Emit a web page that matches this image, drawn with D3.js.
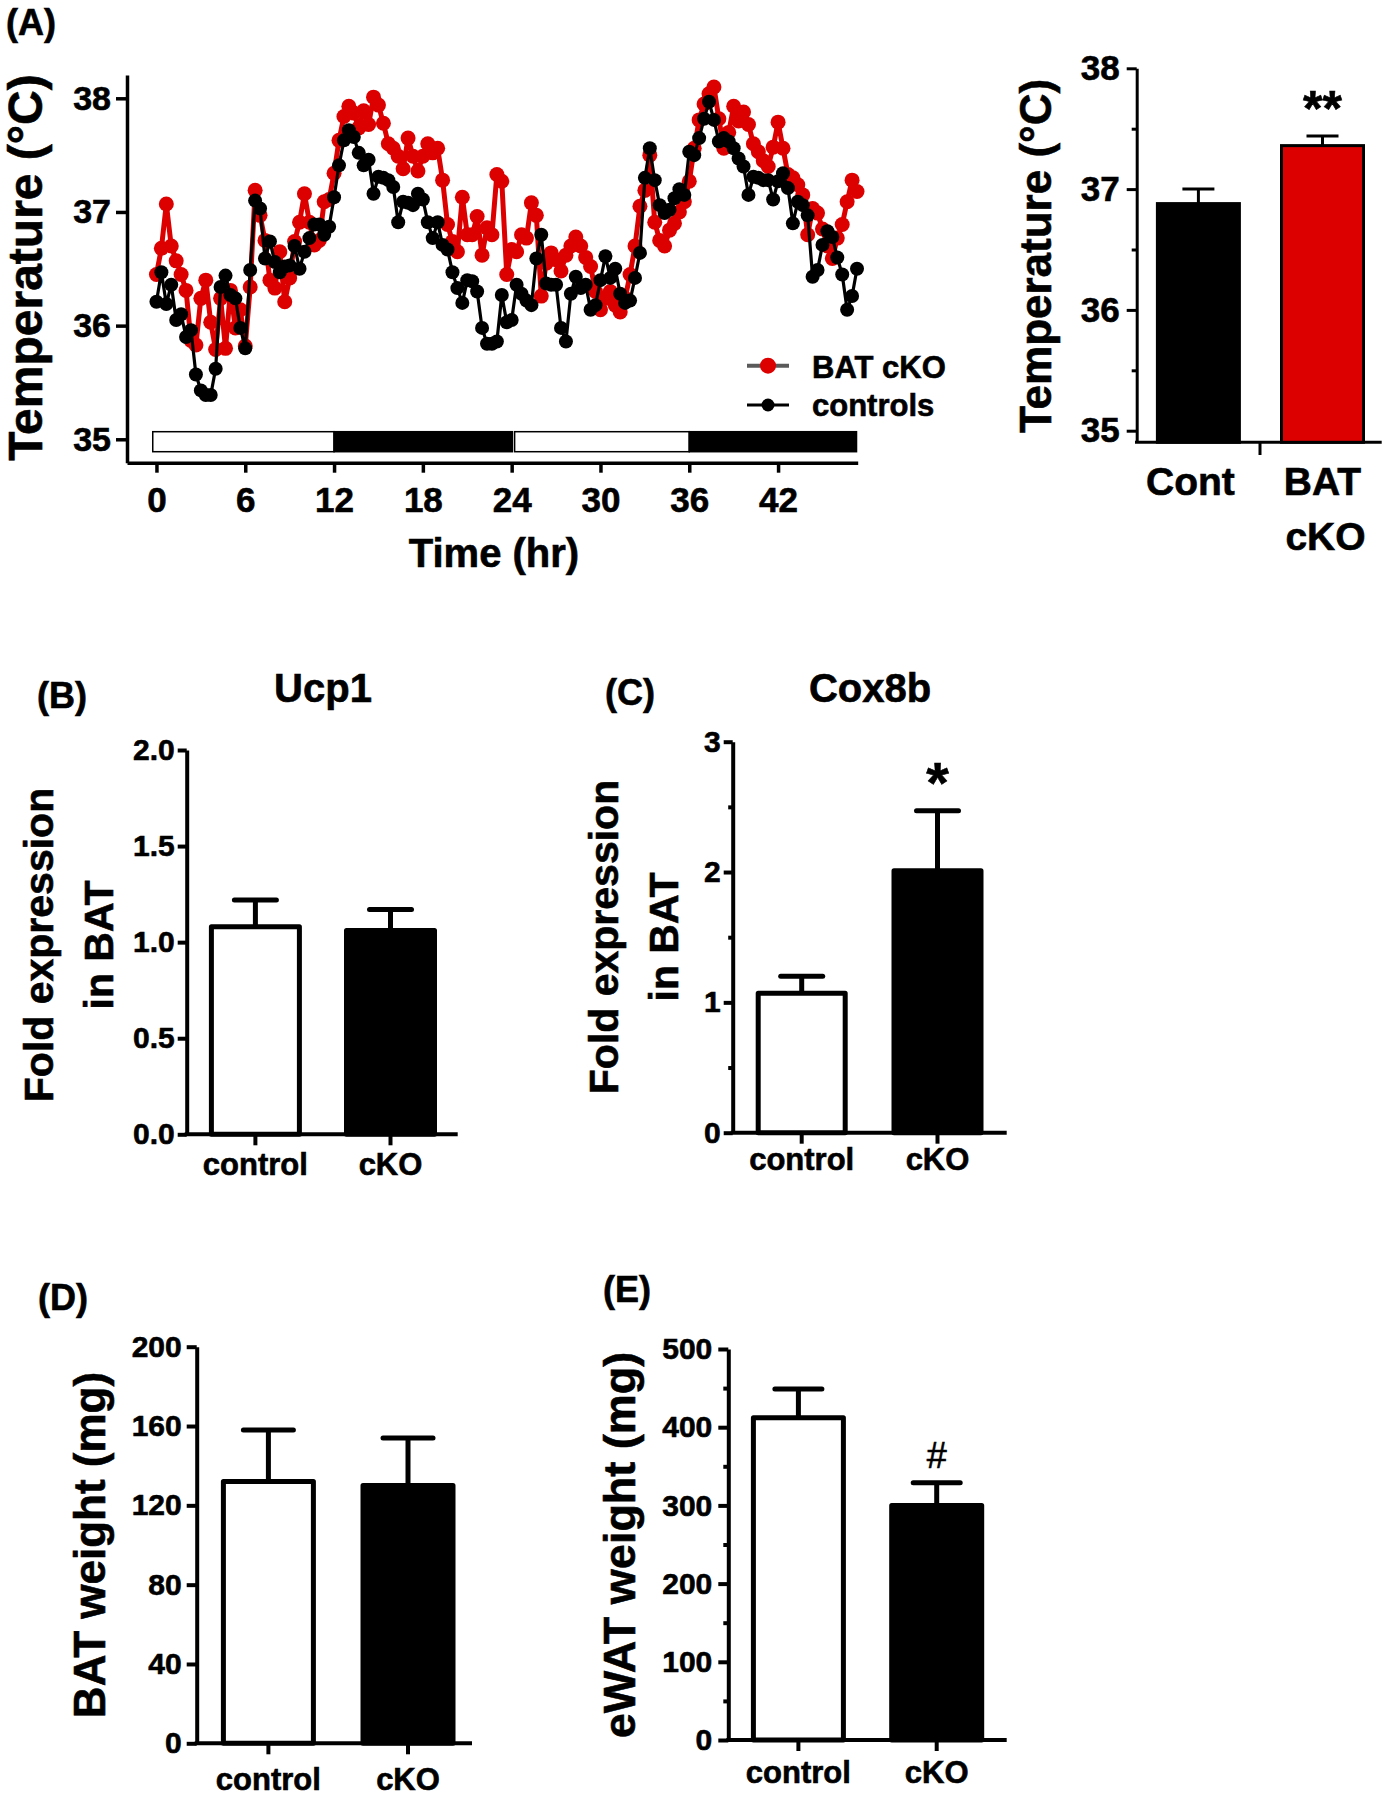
<!DOCTYPE html>
<html>
<head>
<meta charset="utf-8">
<script src="https://cdn.jsdelivr.net/npm/d3@7"></script>
<style>
  body { margin: 0; background: #fff; }
  text { stroke: #000; stroke-width: 0.6px; }
</style>
</head>
<body>
<svg id="fig" width="1388" height="1800"></svg>
<script>
// ---------------- data ----------------
// core body temperature, telemetry sampled every 20 min
const sampleStepHr = 1 / 3;
const tempBatCko = [
  36.45,36.68,37.07,36.70,36.57,36.45,36.31,35.87,35.83,36.24,
  36.40,36.03,35.79,36.24,35.80,36.31,35.98,36.14,35.82,36.34,
  37.19,36.97,36.75,36.40,36.33,36.65,36.21,36.42,36.74,36.91,
  37.16,36.91,36.71,36.75,37.09,37.11,37.34,37.63,37.84,37.93,
  37.87,37.74,37.89,37.77,38.01,37.94,37.78,37.60,37.56,37.49,
  37.38,37.65,37.49,37.36,37.49,37.60,37.52,37.56,37.28,36.89,
  36.74,36.65,37.13,36.80,36.80,36.96,36.62,36.86,36.80,37.33,
  37.27,36.45,36.67,36.65,36.80,36.77,37.08,36.97,36.26,36.55,
  36.64,36.58,36.48,36.62,36.70,36.78,36.70,36.60,36.52,36.30,
  36.14,36.24,36.30,36.18,36.12,36.24,36.45,36.70,37.05,37.19,
  37.50,36.91,36.75,36.70,36.84,36.90,37.00,37.09,37.27,37.56,
  37.81,37.95,38.04,38.10,37.82,37.56,37.70,37.93,37.80,37.88,
  37.77,37.60,37.53,37.45,37.40,37.57,37.79,37.56,37.33,37.30,
  37.24,37.15,36.80,37.03,36.99,36.85,36.70,36.59,36.77,36.89,
  37.09,37.28,37.18
];
const tempControls = [
  36.21,36.47,36.19,36.36,36.05,36.10,35.90,35.96,35.57,35.43,
  35.39,35.39,35.62,36.34,36.44,36.27,36.24,35.98,35.80,36.49,
  37.10,37.03,36.59,36.74,36.56,36.47,36.52,36.53,36.70,36.50,
  36.65,36.77,36.89,36.89,36.80,36.87,37.13,37.41,37.63,37.72,
  37.66,37.52,37.41,37.46,37.16,37.31,37.30,37.28,37.22,36.91,
  37.09,37.08,37.06,37.16,37.11,36.91,36.77,36.91,36.71,36.67,
  36.47,36.33,36.20,36.40,36.39,36.30,35.98,35.84,35.84,35.86,
  36.27,36.03,36.05,36.36,36.28,36.22,36.18,36.59,36.80,36.37,
  36.36,36.36,35.98,35.86,36.28,36.43,36.33,36.36,36.14,36.18,
  36.40,36.61,36.42,36.50,36.28,36.20,36.22,36.42,36.64,37.30,
  37.56,37.28,37.06,36.99,37.02,37.12,37.20,37.15,37.53,37.50,
  37.65,37.82,37.97,37.81,37.62,37.65,37.62,37.56,37.47,37.40,
  37.15,37.31,37.30,37.28,37.28,37.11,37.27,37.34,37.21,36.90,
  37.09,37.06,36.97,36.43,36.49,36.71,36.83,36.78,36.60,36.45,
  36.14,36.26,36.50
];
const timeTicks = [0, 6, 12, 18, 24, 30, 36, 42];
const tempTicks = [35, 36, 37, 38];
const tempMinorTicks = [35.5, 36.5, 37.5];

// light / dark phases (hours)
const phaseStart = [-0.25, 12, 24.2, 36];
const phaseEnd = [12, 24.05, 36, 47.3];
const phaseDark = [false, true, false, true];

// mean temperature bars
const meanGroups = ["Cont", "BAT cKO"];
const meanTemp = [36.88, 37.36];
const meanTempSem = [0.12, 0.08];

// B-E
const groups = ["control", "cKO"];
const ucp1 = [1.08, 1.06];
const ucp1Sem = [0.14, 0.11];
const cox8b = [1.07, 2.01];
const cox8bSem = [0.13, 0.46];
const batWeight = [132, 130];
const batWeightSem = [26, 24];
const ewatWeight = [412, 300];
const ewatWeightSem = [37, 29];

// ---------------- drawing ----------------
const FONT = '"Liberation Sans", Arial, Helvetica, sans-serif';
const RED = '#dc0000';
const svg = d3.select('#fig');

function addText(x, y, str, size, anchor, weight) {
  return svg.append('text')
    .attr('x', x).attr('y', y)
    .attr('font-family', FONT)
    .attr('font-size', size)
    .attr('font-weight', weight || 'bold')
    .attr('text-anchor', anchor || 'start')
    .attr('fill', '#000')
    .text(str);
}

function addVText(x, cy, str, size) {
  //rotated axis title, x is the baseline
  svg.append('text')
    .attr('transform', `translate(${x},${cy}) rotate(-90)`)
    .attr('font-family', FONT)
    .attr('font-size', size)
    .attr('font-weight', 'bold')
    .attr('text-anchor', 'middle')
    .text(str);
}

function styleAxis(g, lw, size) {
  g.attr('font-family', FONT).attr('font-size', size).attr('font-weight', 'bold');
  g.select('.domain').attr('stroke', '#000').attr('stroke-width', lw);
  g.selectAll('.tick line').attr('stroke', '#000').attr('stroke-width', lw);
  g.selectAll('.tick text').attr('fill', '#000');
}

// ===== (A) time course =====
addText(6, 35, '(A)', 36);

const xT = d3.scaleLinear().domain([-1.99, 47.38]).range([127, 857.7]);
const yT = d3.scaleLinear().domain([34.794, 38.205]).range([462.7, 75]);

let gy = svg.append('g').attr('transform', 'translate(127,0)')
  .call(d3.axisLeft(yT).tickValues(tempTicks).tickSize(11).tickSizeOuter(0)
    .tickPadding(5).tickFormat(d3.format('d')));
styleAxis(gy, 3.5, 34);

let gx = svg.append('g').attr('transform', 'translate(0,462.7)')
  .call(d3.axisBottom(xT).tickValues(timeTicks).tickSize(10).tickSizeOuter(0)
    .tickPadding(14).tickFormat(d3.format('d')));
styleAxis(gx, 3.5, 35);

addVText(42, 267.5, 'Temperature (°C)', 48);
addText(494, 567, 'Time (hr)', 40, 'middle');

// light/dark bar
const phases = phaseStart.map((s, i) => ({s: s, e: phaseEnd[i], dark: phaseDark[i]}));
svg.append('g').selectAll('rect').data(phases).enter().append('rect')
  .attr('x', d => xT(d.s))
  .attr('y', 431.7)
  .attr('width', d => xT(d.e) - xT(d.s))
  .attr('height', 20)
  .attr('fill', d => d.dark ? '#000' : '#fff')
  .attr('stroke', '#000')
  .attr('stroke-width', 1.5);

const series = [
  {vals: tempBatCko, color: RED, lw: 5, r: 7.5},
  {vals: tempControls, color: '#000', lw: 3.2, r: 7}
];
series.forEach(s => {
  const pts = s.vals.map((v, i) => [i * sampleStepHr, v]);
  const line = d3.line().x(d => xT(d[0])).y(d => yT(d[1]));
  svg.append('path').datum(pts)
    .attr('d', line)
    .attr('fill', 'none')
    .attr('stroke', s.color)
    .attr('stroke-width', s.lw)
    .attr('stroke-linejoin', 'round');
  svg.append('g').selectAll('circle').data(pts).enter().append('circle')
    .attr('cx', d => xT(d[0]))
    .attr('cy', d => yT(d[1]))
    .attr('r', s.r)
    .attr('fill', s.color);
});

// legend
const legend = [
  {name: 'BAT cKO', line: '#5a5a5a', dot: RED, lw: 4, r: 8, y: 365.7, ty: 377.7},
  {name: 'controls', line: '#000', dot: '#000', lw: 3, r: 6.5, y: 405, ty: 415.5}
];
legend.forEach(l => {
  svg.append('line').attr('x1', 747).attr('x2', 789).attr('y1', l.y).attr('y2', l.y)
    .attr('stroke', l.line).attr('stroke-width', l.lw);
  svg.append('circle').attr('cx', 768).attr('cy', l.y).attr('r', l.r).attr('fill', l.dot);
  addText(812, l.ty, l.name, 31);
});

// ===== (A) mean temperature =====
const yM = d3.scaleLinear().domain([34.904, 38]).range([442.3, 68.3]);
const xM = d3.scalePoint().domain(meanGroups).range([1198.4, 1322.5]);
const barWM = 82;

let gm = svg.append('g').attr('transform', 'translate(1136.7,0)')
  .call(d3.axisLeft(yM).tickValues(tempTicks).tickSize(10).tickSizeOuter(0)
    .tickPadding(7).tickFormat(d3.format('d')));
styleAxis(gm, 3, 35);
let gmm = svg.append('g').attr('transform', 'translate(1136.7,0)')
  .call(d3.axisLeft(yM).tickValues(tempMinorTicks).tickSize(5).tickSizeOuter(0).tickFormat(''));
styleAxis(gmm, 3, 35);
gmm.select('.domain').remove();

svg.append('line').attr('x1', 1135).attr('x2', 1381.7).attr('y1', 442.3).attr('y2', 442.3)
  .attr('stroke', '#000').attr('stroke-width', 3);
svg.append('line').attr('x1', 1260).attr('x2', 1260).attr('y1', 442.3).attr('y2', 455)
  .attr('stroke', '#000').attr('stroke-width', 3);

meanGroups.forEach((g, i) => {
  const cx = xM(g);
  const top = yM(meanTemp[i]);
  const errTop = yM(meanTemp[i] + meanTempSem[i]);
  svg.append('line').attr('x1', cx).attr('x2', cx).attr('y1', top).attr('y2', errTop)
    .attr('stroke', '#000').attr('stroke-width', 3);
  svg.append('line').attr('x1', cx - 16).attr('x2', cx + 16).attr('y1', errTop).attr('y2', errTop)
    .attr('stroke', '#000').attr('stroke-width', 3);
  svg.append('rect')
    .attr('x', cx - barWM / 2).attr('y', top)
    .attr('width', barWM).attr('height', yM(34.904) - top)
    .attr('fill', i === 0 ? '#000' : RED)
    .attr('stroke', '#000').attr('stroke-width', 3);
});
addText(xM('BAT cKO'), 126, '**', 50, 'middle');
addVText(1051, 256, 'Temperature (°C)', 44);
addText(xM('Cont') - 8, 495, 'Cont', 39, 'middle');
addText(xM('BAT cKO'), 495, 'BAT', 39, 'middle');
addText(xM('BAT cKO') + 3, 550, 'cKO', 39, 'middle');

// ===== B-E bar panels =====
function barPanel(c) {
  const y = d3.scaleLinear().domain(c.domain).range([c.y0, c.yTop]);
  const x = d3.scalePoint().domain(groups).range(c.centers);

  let ga = svg.append('g').attr('transform', `translate(${c.axisX},0)`)
    .call(d3.axisLeft(y).tickValues(c.ticks).tickSize(c.tick).tickSizeOuter(0)
      .tickPadding(c.pad).tickFormat(d3.format(c.fmt)));
  styleAxis(ga, 4, 30);
  if (c.minor.length) {
    let gn = svg.append('g').attr('transform', `translate(${c.axisX},0)`)
      .call(d3.axisLeft(y).tickValues(c.minor).tickSize(c.tick / 2).tickSizeOuter(0).tickFormat(''));
    styleAxis(gn, 4, 30);
    gn.select('.domain').remove();
  }
  // x axis
  svg.append('line').attr('x1', c.axisX - 2).attr('x2', c.xEnd).attr('y1', c.y0).attr('y2', c.y0)
    .attr('stroke', '#000').attr('stroke-width', 4);
  groups.forEach((g, i) => {
    const cx = x(g);
    svg.append('line').attr('x1', cx).attr('x2', cx).attr('y1', c.y0).attr('y2', c.y0 + 11)
      .attr('stroke', '#000').attr('stroke-width', 4);
    const top = y(c.values[i]);
    const errTop = y(c.values[i] + c.errs[i]);
    svg.append('line').attr('x1', cx).attr('x2', cx).attr('y1', top).attr('y2', errTop)
      .attr('stroke', '#000').attr('stroke-width', 5);
    svg.append('line').attr('x1', cx - c.capW / 2).attr('x2', cx + c.capW / 2)
      .attr('y1', errTop).attr('y2', errTop)
      .attr('stroke', '#000').attr('stroke-width', 5).attr('stroke-linecap', 'round');
    svg.append('rect')
      .attr('x', cx - c.barW / 2).attr('y', top)
      .attr('width', c.barW).attr('height', c.y0 - top)
      .attr('fill', i === 0 ? '#fff' : '#000')
      .attr('stroke', '#000').attr('stroke-width', 5).attr('stroke-linejoin', 'round');
    addText(cx, c.xLabelY, g, 31, 'middle');
  });

  addText(c.labelX, c.labelY, c.label, 36);
  if (c.title) addText(c.title[1], c.title[2], c.title[0], 40, 'middle');
  c.yTitle.forEach((t, i) => addVText(c.yTitleX[i], c.yTitleCY, t, c.yTitleSize));
  if (c.mark) addText(x(groups[1]), c.mark[1], c.mark[0], c.mark[2], 'middle', c.mark[3]);
}

barPanel({
  label: '(B)', labelX: 37, labelY: 708, title: ['Ucp1', 323, 702],
  axisX: 186.7, xEnd: 457.7, y0: 1134.3, yTop: 750, domain: [0, 2],
  ticks: [0, 0.5, 1, 1.5, 2], minor: [], fmt: '.1f', tick: 9, pad: 3,
  centers: [255.4, 390.5], barW: 88, capW: 42,
  values: ucp1, errs: ucp1Sem, xLabelY: 1175,
  yTitle: ['Fold expression', 'in BAT'], yTitleX: [53, 113], yTitleCY: 945, yTitleSize: 41
});
barPanel({
  label: '(C)', labelX: 605, labelY: 705, title: ['Cox8b', 870, 702],
  axisX: 732.7, xEnd: 1006.7, y0: 1132.7, yTop: 741.7, domain: [0, 3],
  ticks: [0, 1, 2, 3], minor: [0.5, 1.5, 2.5], fmt: 'd', tick: 9, pad: 3,
  centers: [801.7, 937.5], barW: 87, capW: 42,
  values: cox8b, errs: cox8bSem, xLabelY: 1170,
  yTitle: ['Fold expression', 'in BAT'], yTitleX: [618, 678], yTitleCY: 937, yTitleSize: 41,
  mark: ['*', 803, 58, 'bold']
});
barPanel({
  label: '(D)', labelX: 38, labelY: 1310,
  axisX: 196.7, xEnd: 472, y0: 1743.3, yTop: 1346.7, domain: [0, 200],
  ticks: [0, 40, 80, 120, 160, 200], minor: [], fmt: 'd', tick: 10, pad: 5,
  centers: [268.4, 408], barW: 90, capW: 50,
  values: batWeight, errs: batWeightSem, xLabelY: 1790,
  yTitle: ['BAT weight (mg)'], yTitleX: [104.5], yTitleCY: 1545, yTitleSize: 44
});
barPanel({
  label: '(E)', labelX: 603, labelY: 1302,
  axisX: 728.3, xEnd: 1006.7, y0: 1740, yTop: 1349, domain: [0, 500],
  ticks: [0, 100, 200, 300, 400, 500], minor: [50, 150, 250, 350, 450], fmt: 'd', tick: 10, pad: 6,
  centers: [798.4, 936.7], barW: 90, capW: 47,
  values: ewatWeight, errs: ewatWeightSem, xLabelY: 1783,
  yTitle: ['eWAT weight (mg)'], yTitleX: [634.5], yTitleCY: 1545, yTitleSize: 45,
  mark: ['#', 1468, 36, 'normal']
});
</script>
</body>
</html>
